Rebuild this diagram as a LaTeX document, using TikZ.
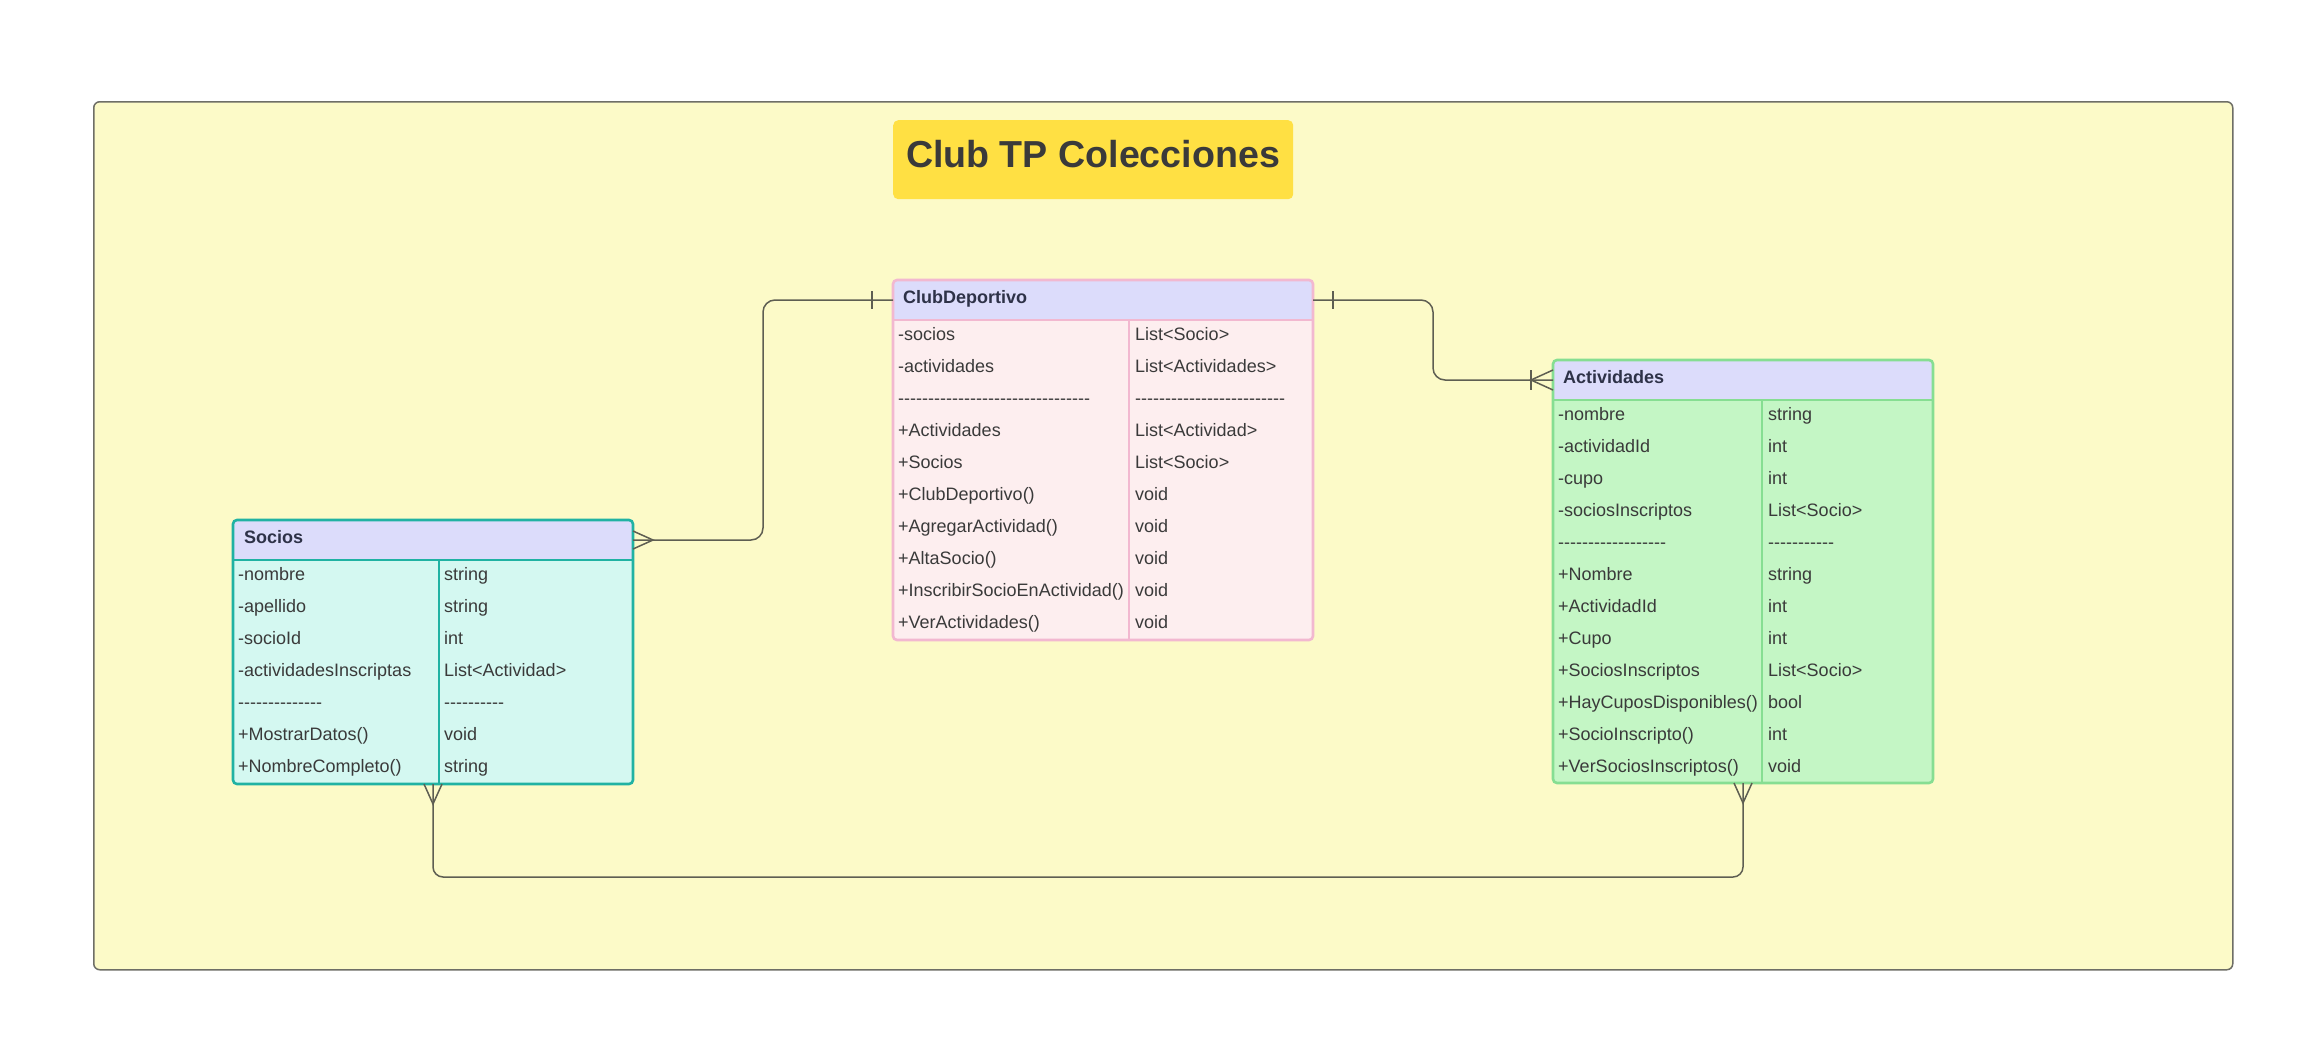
\documentclass[tikz,border=0pt]{standalone}
\usepackage{fontspec}
\setmainfont{Liberation Sans}
\usetikzlibrary{calc}
\definecolor{bgyellow}{HTML}{FCFAC8}
\definecolor{framecol}{HTML}{6E6E66}
\definecolor{titley}{HTML}{FFE043}
\definecolor{txt}{HTML}{3A3A3A}
\definecolor{hdrtxt}{HTML}{2E3248}
\definecolor{hdr}{HTML}{DCDCFB}
\definecolor{clubbody}{HTML}{FDEEEF}
\definecolor{clubline}{HTML}{F2B8D0}
\definecolor{socbody}{HTML}{D4F8F1}
\definecolor{socline}{HTML}{20B2A3}
\definecolor{actbody}{HTML}{C4F6C5}
\definecolor{actline}{HTML}{86DE92}
\definecolor{conncol}{HTML}{5E5E52}
\ExplSyntaxOn
\NewDocumentCommand\dashrun{m}{\prg_replicate:nn{#1}{-\kern0pt}}
\ExplSyntaxOff
\tikzset{
  boxbody/.style={inner sep=0pt, outer sep=0pt, rounded corners=4pt, anchor=north west},
  hdrbox/.style={inner sep=0pt, outer sep=0pt, rounded corners=4pt, fill=hdr, anchor=north west, minimum height=40pt},
  cell/.style={anchor=base west, inner sep=0pt, text=txt, font=\fontsize{18}{21}\selectfont},
  hdrtext/.style={anchor=base west, inner sep=0pt, text=hdrtxt, font=\fontsize{18}{21}\selectfont\bfseries},
  conn/.style={draw=conncol, line width=1.5pt},
  outline/.style={line width=2.6pt, rounded corners=4pt},
  sepline/.style={line width=2.2pt}
}
\begin{document}
\begin{tikzpicture}[x=1pt,y=-1pt]
\fill[white] (0,0) rectangle (2324,1061);
\useasboundingbox (0,0) rectangle (2324,1061);
% container
\node[draw=framecol, fill=bgyellow, line width=1.5pt, rounded corners=6pt, inner sep=0pt, anchor=north west, minimum width=2139pt, minimum height=868pt] (container) at (93,101) {};
% title
\node[fill=titley, rounded corners=5pt, inner sep=0pt, anchor=north west, minimum width=400pt, minimum height=79pt] (title) at (893,120) {};
\node[anchor=base, inner sep=0pt, text=txt, font=\fontsize{37.6}{40}\selectfont\bfseries] (titletext) at (1093,167) {Club TP Colecciones};

% ---------- ClubDeportivo ----------
\node[boxbody, fill=clubbody, minimum width=420pt, minimum height=360pt] (club) at (893,280) {};
\node[hdrbox, minimum width=420pt] (clubhdr) at (893,280) {};
\fill[hdr] (893,300) rectangle (1313,320);
\draw[outline, clubline] (club.north west) rectangle (club.south east);
\draw[sepline, clubline] (clubhdr.south west) -- (clubhdr.south east);
\draw[sepline, clubline] ($(clubhdr.south west)+(236,0)$) -- ($(club.south west)+(236,0)$);
\node[hdrtext] (clubtitle) at (903,303) {ClubDeportivo};
\foreach \a/\b [count=\i] in {-socios/List<Socio>, -actividades/List<Actividades>, {\dashrun{32}}/{\dashrun{25}}, +Actividades/List<Actividad>, +Socios/List<Socio>, +ClubDeportivo()/void, +AgregarActividad()/void, +AltaSocio()/void, +InscribirSocioEnActividad()/void, +VerActividades()/void}{
  \node[cell] (club-a\i) at (898,{340+(\i-1)*32}) {\a};
  \node[cell] (club-b\i) at (1135,{340+(\i-1)*32}) {\b};
}

% ---------- Socios ----------
\node[boxbody, fill=socbody, minimum width=400pt, minimum height=264pt] (socios) at (233,520) {};
\node[hdrbox, minimum width=400pt] (sociohdr) at (233,520) {};
\fill[hdr] (233,540) rectangle (633,560);
\draw[outline, socline] (socios.north west) rectangle (socios.south east);
\draw[sepline, socline] (sociohdr.south west) -- (sociohdr.south east);
\draw[sepline, socline] ($(sociohdr.south west)+(206,0)$) -- ($(socios.south west)+(206,0)$);
\node[hdrtext] (sociotitle) at (244,543) {Socios};
\foreach \a/\b [count=\i] in {-nombre/string, -apellido/string, -socioId/int, -actividadesInscriptas/List<Actividad>, {\dashrun{14}}/{\dashrun{10}}, +MostrarDatos()/void, +NombreCompleto()/string}{
  \node[cell] (soc-a\i) at (238,{580+(\i-1)*32}) {\a};
  \node[cell] (soc-b\i) at (444,{580+(\i-1)*32}) {\b};
}

% ---------- Actividades ----------
\node[boxbody, fill=actbody, minimum width=380pt, minimum height=423pt] (act) at (1553,360) {};
\node[hdrbox, minimum width=380pt] (acthdr) at (1553,360) {};
\fill[hdr] (1553,380) rectangle (1933,400);
\draw[outline, actline] (act.north west) rectangle (act.south east);
\draw[sepline, actline] (acthdr.south west) -- (acthdr.south east);
\draw[sepline, actline] ($(acthdr.south west)+(209,0)$) -- ($(act.south west)+(209,0)$);
\node[hdrtext] (acttitle) at (1563,383) {Actividades};
\foreach \a/\b [count=\i] in {-nombre/string, -actividadId/int, -cupo/int, -sociosInscriptos/List<Socio>, {\dashrun{18}}/{\dashrun{11}}, +Nombre/string, +ActividadId/int, +Cupo/int, +SociosInscriptos/List<Socio>, +HayCuposDisponibles()/bool, +SocioInscripto()/int, +VerSociosInscriptos()/void}{
  \node[cell] (act-a\i) at (1558,{420+(\i-1)*32}) {\a};
  \node[cell] (act-b\i) at (1768,{420+(\i-1)*32}) {\b};
}

% ---------- connectors ----------
% ClubDeportivo -- Socios
\draw[conn, rounded corners=12pt] (clubhdr.west) -- ++(-130,0) |- (sociohdr.east);
\draw[conn] ($(clubhdr.west)+(-21,-9)$) -- ($(clubhdr.west)+(-21,9)$);
\draw[conn] ($(sociohdr.east)+(0,-9)$) -- ($(sociohdr.east)+(20,0)$) -- ($(sociohdr.east)+(0,9)$);
% ClubDeportivo -- Actividades
\draw[conn, rounded corners=12pt] (clubhdr.east) -- ++(120,0) |- (acthdr.west);
\draw[conn] ($(clubhdr.east)+(20,-9)$) -- ($(clubhdr.east)+(20,9)$);
\draw[conn] ($(acthdr.west)+(0,-10)$) -- ($(acthdr.west)+(-22,0)$) -- ($(acthdr.west)+(0,10)$);
\draw[conn] ($(acthdr.west)+(-22,-10)$) -- ($(acthdr.west)+(-22,10)$);
% Socios -- Actividades
\draw[conn, rounded corners=10pt] (socios.south) -- ++(0,93) -| (act.south);
\draw[conn] ($(socios.south)+(-9,0)$) -- ($(socios.south)+(0,20)$) -- ($(socios.south)+(9,0)$);
\draw[conn] ($(act.south)+(-9,0)$) -- ($(act.south)+(0,20)$) -- ($(act.south)+(9,0)$);
\end{tikzpicture}
\end{document}
